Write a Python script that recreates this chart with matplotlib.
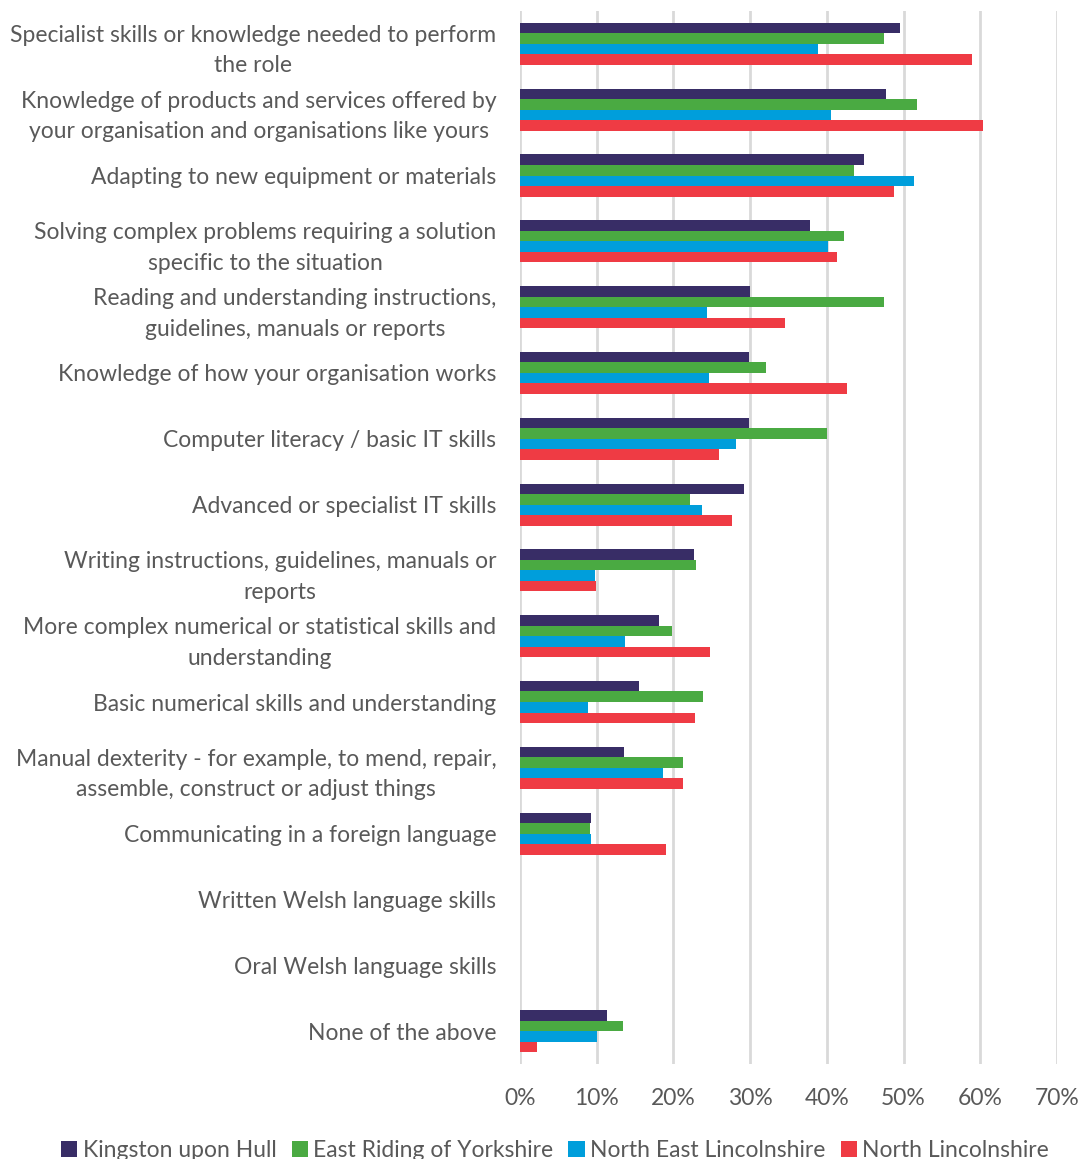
import numpy as np
import matplotlib.pyplot as plt
from matplotlib.ticker import PercentFormatter

# ── Data ─────────────────────────────────────────────────────────────────────

skills = [
    "Specialist skills or knowledge needed to perform\nthe role",
    "Knowledge of products and services offered by\nyour organisation and organisations like yours",
    "Adapting to new equipment or materials",
    "Solving complex problems requiring a solution\nspecific to the situation",
    "Reading and understanding instructions,\nguidelines, manuals or reports",
    "Knowledge of how your organisation works",
    "Computer literacy / basic IT skills",
    "Advanced or specialist IT skills",
    "Writing instructions, guidelines, manuals or\nreports",
    "More complex numerical or statistical skills and\nunderstanding",
    "Basic numerical skills and understanding",
    "Manual dexterity - for example, to mend, repair,\nassemble, construct or adjust things",
    "Communicating in a foreign language",
    "Written Welsh language skills",
    "Oral Welsh language skills",
    "None of the above",
]

areas = ["Kingston upon Hull", "East Riding of Yorkshire",
         "North East Lincolnshire", "North Lincolnshire"]

hull = [49.6, 47.7, 44.8, 37.8, 30.0, 29.9, 29.9, 29.2,
        22.7, 18.1, 15.5, 13.6, 9.3, 0, 0, 11.4]
east_riding = [47.4, 51.7, 43.6, 42.2, 47.5, 32.1, 40.0, 22.2,
               22.9, 19.8, 23.9, 21.2, 9.1, 0, 0, 13.4]
ne_lincs = [38.9, 40.6, 51.3, 40.2, 24.4, 24.6, 28.1, 23.7,
            9.8, 13.7, 8.8, 18.7, 9.2, 0, 0, 10.0]
n_lincs = [58.9, 60.4, 48.8, 41.3, 34.5, 42.6, 26.0, 27.6,
           9.9, 24.8, 22.8, 21.2, 19.0, 0, 0, 2.2]

colours = ["#382D66", "#4AAA42", "#009EDB", "#EF3B44"]

# ── Plot ─────────────────────────────────────────────────────────────────────

plt.rcParams["font.family"] = ["Lato", "DejaVu Sans"]
text_col = "#595959"

fig = plt.figure(figsize=(10.78, 11.59), dpi=100)
ax = fig.add_axes([0.4824, 0.082, 0.4981, 0.9085])

y = np.arange(len(skills))
bar_h = 0.16
series = [hull, east_riding, ne_lincs, n_lincs]
for i, (vals, name, col) in enumerate(zip(series, areas, colours)):
    ax.barh(y + (i - 1.5) * bar_h, vals, height=bar_h, color=col,
            linewidth=0, label=name, zorder=3)

ax.set_ylim(len(skills) - 0.5, -0.5)
ax.set_xlim(0, 70)
ax.set_xticks(np.arange(0, 71, 10))
ax.xaxis.set_major_formatter(PercentFormatter(decimals=0))
ax.set_yticks(y)
ax.set_yticklabels(skills, linespacing=1.55)

ax.grid(axis="x", color="#D9D9D9", linewidth=2, zorder=0)
for s in ax.spines.values():
    s.set_visible(False)
ax.tick_params(axis="both", length=0, labelsize=16.5, colors=text_col)
ax.tick_params(axis="y", pad=17)
ax.tick_params(axis="x", pad=17)
for lbl in ax.get_yticklabels():
    lbl.set_horizontalalignment("right")
    lbl.set_multialignment("center")

fig.legend(loc="center", bbox_to_anchor=(0.515, 0.0075), ncol=4,
           frameon=False, fontsize=16.5, labelcolor=text_col,
           handlelength=0.7, handleheight=0.7, handletextpad=0.25,
           columnspacing=0.65)

fig.savefig("out.png", dpi=100)
